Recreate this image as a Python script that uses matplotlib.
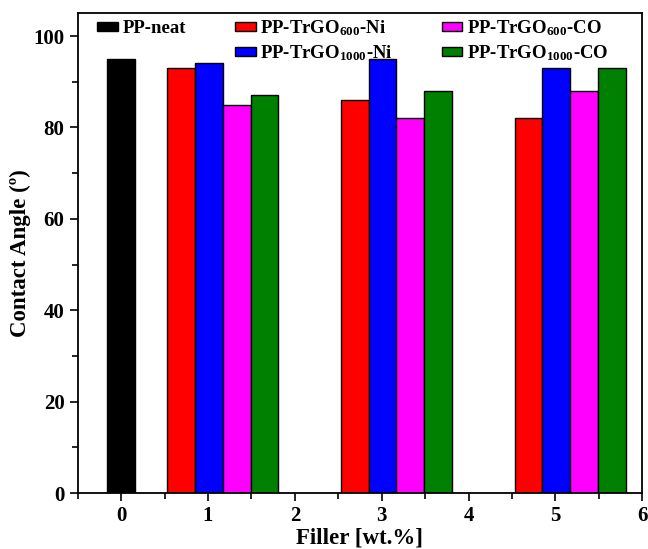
import numpy as np
import matplotlib
matplotlib.use("Agg")
import matplotlib.pyplot as plt
from matplotlib.patches import Rectangle

plt.rcParams['font.family'] = 'Liberation Serif'
plt.rcParams['font.weight'] = 'bold'
plt.rcParams['mathtext.fontset'] = 'custom'
plt.rcParams['mathtext.rm'] = 'Liberation Serif:bold'
plt.rcParams['mathtext.bf'] = 'Liberation Serif:bold'
plt.rcParams['mathtext.default'] = 'bf'

# data
filler = [1, 3, 5]
neat_value = 95
ni_600 = [93, 86, 82]
ni_1000 = [94, 95, 93]
co_600 = [85, 82, 88]
co_1000 = [87, 88, 93]

series = [
    (r'PP-TrGO$_{600}$-Ni', ni_600, 'red'),
    (r'PP-TrGO$_{1000}$-Ni', ni_1000, 'blue'),
    (r'PP-TrGO$_{600}$-CO', co_600, 'magenta'),
    (r'PP-TrGO$_{1000}$-CO', co_1000, 'green'),
]

fig = plt.figure(figsize=(6.48, 5.49), dpi=100)
ax = fig.add_axes([0.120, 0.102, 0.871, 0.874])

w = 0.32
center_shift = 0.17
neat = ax.bar(0, neat_value, width=w, color='black', edgecolor='black', lw=1)
handles = [neat, Rectangle((0, 0), 1, 1, visible=False)]
labels = ['PP-neat', ' ']
x = np.array(filler) + center_shift
for i, (lab, vals, col) in enumerate(series):
    b = ax.bar(x + (i - 1.5) * w, vals, width=w, color=col, edgecolor='black', lw=1)
    handles.append(b)
    labels.append(lab)

ax.set_xlim(-0.5, 6)
ax.set_ylim(0, 105)
ax.set_xticks(range(0, 7))
ax.set_xticks(np.arange(-0.5, 6, 1.0), minor=True)
ax.set_yticks(range(0, 101, 20))
ax.set_yticks(range(10, 100, 20), minor=True)
ax.tick_params(which='major', direction='out', length=6, width=1.2, labelsize=15)
ax.tick_params(which='minor', direction='out', length=4, width=1.2)
for s in ax.spines.values():
    s.set_linewidth(1.3)

ax.set_xlabel('Filler [wt.%]', fontsize=16.5, fontweight='bold', labelpad=1)
ax.set_ylabel('Contact Angle (º)', fontsize=16.5, fontweight='bold', labelpad=2)

leg = ax.legend(handles, labels, ncol=3, loc='upper left', bbox_to_anchor=(0.005, 1.025),
                frameon=False, fontsize=13.5, handlelength=1.1, handleheight=0.4,
                columnspacing=2.6, labelspacing=0.3, handletextpad=0.25)

fig.savefig('out.png', dpi=100)
